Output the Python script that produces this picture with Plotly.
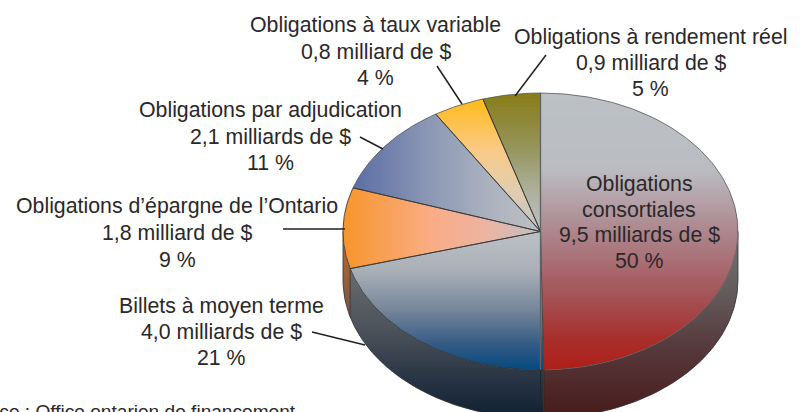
import numpy as np
import plotly.graph_objects as go

# ---- data ----
categories = ["Obligations consortiales", "Billets à moyen terme",
              "Obligations d’épargne de l’Ontario", "Obligations par adjudication",
              "Obligations à taux variable", "Obligations à rendement réel"]
amounts = [9.5, 4.0, 1.8, 2.1, 0.8, 0.9]
amount_labels = ["9,5 milliards de $", "4,0 milliards de $", "1,8 milliard de $",
                 "2,1 milliards de $", "0,8 milliard de $", "0,9 milliard de $"]
percent_labels = ["50 %", "21 %", "9 %", "11 %", "4 %", "5 %"]
source_note = "Source : Office ontarien de financement"

# ---- style / layout (pixel space) ----
W, H = 803, 412
CX, CY, RX, RY, DEPTH = 540.5, 231.5, 197.5, 138.5, 48.5
FONT = "Liberation Sans, Arial, sans-serif"
TXT = "#2a2829"
FS = 21.3
# per-slice gradient: axis, [(position, rgb), ...]
GRAD = [
    ("y", [(93, (188, 193, 197)), (170, (186, 188, 193)), (230, (174, 135, 143)),
           (290, (165, 88, 92)), (340, (168, 46, 42)), (370, (176, 30, 26))]),
    ("y", [(232, (188, 193, 197)), (270, (170, 176, 184)), (310, (118, 134, 155)),
           (345, (50, 90, 132)), (372, (0, 72, 128))]),
    ("x", [(343, (247, 149, 44)), (430, (250, 172, 132)), (490, (234, 180, 165)), (541, (188, 193, 197))]),
    ("x", [(354, (92, 110, 165)), (430, (140, 152, 180)), (500, (176, 182, 192)), (541, (188, 193, 197))]),
    ("y", [(98, (255, 186, 24)), (150, (250, 202, 135)), (190, (225, 205, 175)), (232, (188, 193, 197))]),
    ("y", [(93, (136, 124, 24)), (150, (150, 150, 95)), (190, (172, 176, 155)), (232, (188, 193, 197))]),
]
SIDE_GRAD = {
    0: ("y", [(235, (112, 116, 118)), (290, (100, 92, 94)), (350, (86, 56, 58)), (415, (72, 28, 28))]),
    1: ("y", [(270, (104, 108, 112)), (330, (76, 82, 90)), (380, (40, 52, 68)), (418, (16, 32, 50))]),
    2: ("y", [(235, (190, 105, 45)), (300, (130, 90, 70))]),
}
# label blocks: centre x of each line and centre y of each line
LABEL_X = [[639] * 4, [221] * 3, [177] * 3, [270.5] * 3, [375.5] * 3, [650.5] * 3]
LABEL_Y = [[184, 209.5, 235, 261], [306, 332, 358], [206, 232.5, 259.5],
           [110, 137, 163], [25, 51.5, 78], [37, 63, 89]]
LEADERS = [None, ((312, 332), (365, 345)), ((283, 229), (345, 229)),
           ((360, 137), (383, 149)), ((437, 66), (462, 104)), ((546, 55), (515, 96))]


def mix(stops, t):
    ps = [s[0] for s in stops]
    return tuple(int(round(np.interp(t, ps, [s[1][i] for s in stops]))) for i in range(3))


def clip(poly, axis, lo, hi):
    k = 0 if axis == "x" else 1
    def half(pts, keep, cross):
        out = []
        for i in range(len(pts)):
            a, b = pts[i], pts[(i + 1) % len(pts)]
            ia, ib = keep(a[k]), keep(b[k])
            if ia:
                out.append(a)
            if ia != ib:
                t = (cross - a[k]) / (b[k] - a[k])
                out.append((a[0] + t * (b[0] - a[0]), a[1] + t * (b[1] - a[1])))
        return out
    p = half(poly, lambda v: v >= lo, lo)
    if p:
        p = half(p, lambda v: v <= hi, hi)
    return p


def ell(theta, dy=0.0):
    return CX + RX * np.sin(theta), CY + dy - RY * np.cos(theta)


def add_bands(fig, poly, axis, stops, step=2):
    k = 0 if axis == "x" else 1
    vals = [p[k] for p in poly]
    v = int(np.floor(min(vals)))
    vmax = max(vals)
    while v < vmax:
        band = clip(poly, axis, v, v + step)
        if len(band) >= 3:
            r, g, b = mix(stops, v + step / 2)
            c = f"rgb({r},{g},{b})"
            fig.add_trace(go.Scatter(
                x=[p[0] for p in band] + [band[0][0]], y=[p[1] for p in band] + [band[0][1]],
                mode="lines", fill="toself", fillcolor=c, line=dict(width=0),
                hoverinfo="skip", showlegend=False))
        v += step


def seg(fig, xs, ys, color="#2b2b2b", width=0.8):
    fig.add_trace(go.Scatter(x=xs, y=ys, mode="lines", line=dict(color=color, width=width),
                             hoverinfo="skip", showlegend=False))


fig = go.Figure()
shares = np.array(amounts) / sum(amounts)
edges = np.concatenate([[0], np.cumsum(shares)]) * 2 * np.pi

# side wall
for i, (axis, stops) in SIDE_GRAD.items():
    a = max(edges[i], np.pi / 2)
    b = min(edges[i + 1], 3 * np.pi / 2)
    th = np.linspace(a, b, 120)
    top = [ell(t) for t in th]
    bot = [ell(t, DEPTH) for t in th[::-1]]
    add_bands(fig, top + bot, axis, stops)
th = np.linspace(np.pi / 2, 3 * np.pi / 2, 240)
seg(fig, [ell(t, DEPTH)[0] for t in th], [ell(t, DEPTH)[1] for t in th], "#333333", 0.8)
seg(fig, [CX + RX, CX + RX], [CY, CY + DEPTH], "#333333", 0.8)
seg(fig, [CX - RX, CX - RX], [CY, CY + DEPTH], "#333333", 0.8)
for i in (1, 2):
    x0, y0 = ell(edges[i])
    seg(fig, [x0, x0], [y0, y0 + DEPTH], "#222222", 0.8)

# top faces
for i, (axis, stops) in enumerate(GRAD):
    th = np.linspace(edges[i], edges[i + 1], max(8, int(shares[i] * 400)))
    poly = [(CX, CY)] + [ell(t) for t in th]
    add_bands(fig, poly, axis, stops)

# outlines
for i in range(len(amounts)):
    th = np.linspace(edges[i], edges[i + 1], max(8, int(shares[i] * 400)))
    arc = [ell(t) for t in th]
    seg(fig, [p[0] for p in arc], [p[1] for p in arc], "#55585a" if i in (0, 5, 4, 3) else "#2b2b2b", 0.8)
    if i in (2, 3, 4, 5):
        x0, y0 = ell(edges[i])
        seg(fig, [CX, x0], [CY, y0], "#333333", 0.8)
    x1, y1 = ell(edges[i + 1])
    seg(fig, [CX, x1], [CY, y1], "#333333", 0.8)
# vertical divider through the centre
seg(fig, [CX, CX], [CY - RY, CY + RY], "#5f6163", 1.3)
seg(fig, [CX, CX], [CY + RY, CY + RY + DEPTH], "#222222", 0.9)

# leaders
for ld in LEADERS:
    if ld:
        seg(fig, [ld[0][0], ld[1][0]], [ld[0][1], ld[1][1]], "#231f20", 1.5)

annotations = []
for i, cat in enumerate(categories):
    if i == 0:
        lines = ["Obligations", "consortiales", amount_labels[i], percent_labels[i]]
    else:
        lines = [cat, amount_labels[i], percent_labels[i]]
    for t, x, y in zip(lines, LABEL_X[i], LABEL_Y[i]):
        annotations.append(dict(x=x, y=y, text=t, showarrow=False, xref="x", yref="y",
                                xanchor="center", yanchor="middle",
                                font=dict(family=FONT, size=FS, color=TXT)))
annotations.append(dict(x=298, y=411, text=source_note, showarrow=False, xref="x", yref="y",
                        xanchor="right", yanchor="middle",
                        font=dict(family=FONT, size=19.1, color=TXT)))

fig.update_layout(
    width=W, height=H, margin=dict(l=0, r=0, t=0, b=0),
    paper_bgcolor="white", plot_bgcolor="white", showlegend=False,
    xaxis=dict(range=[0, W], visible=False, fixedrange=True),
    yaxis=dict(range=[H, 0], visible=False, fixedrange=True),
    annotations=annotations,
)
fig.write_html("out.html", config={"displayModeBar": False},
               post_script="document.body.style.margin='0';document.body.style.overflow='hidden';")
